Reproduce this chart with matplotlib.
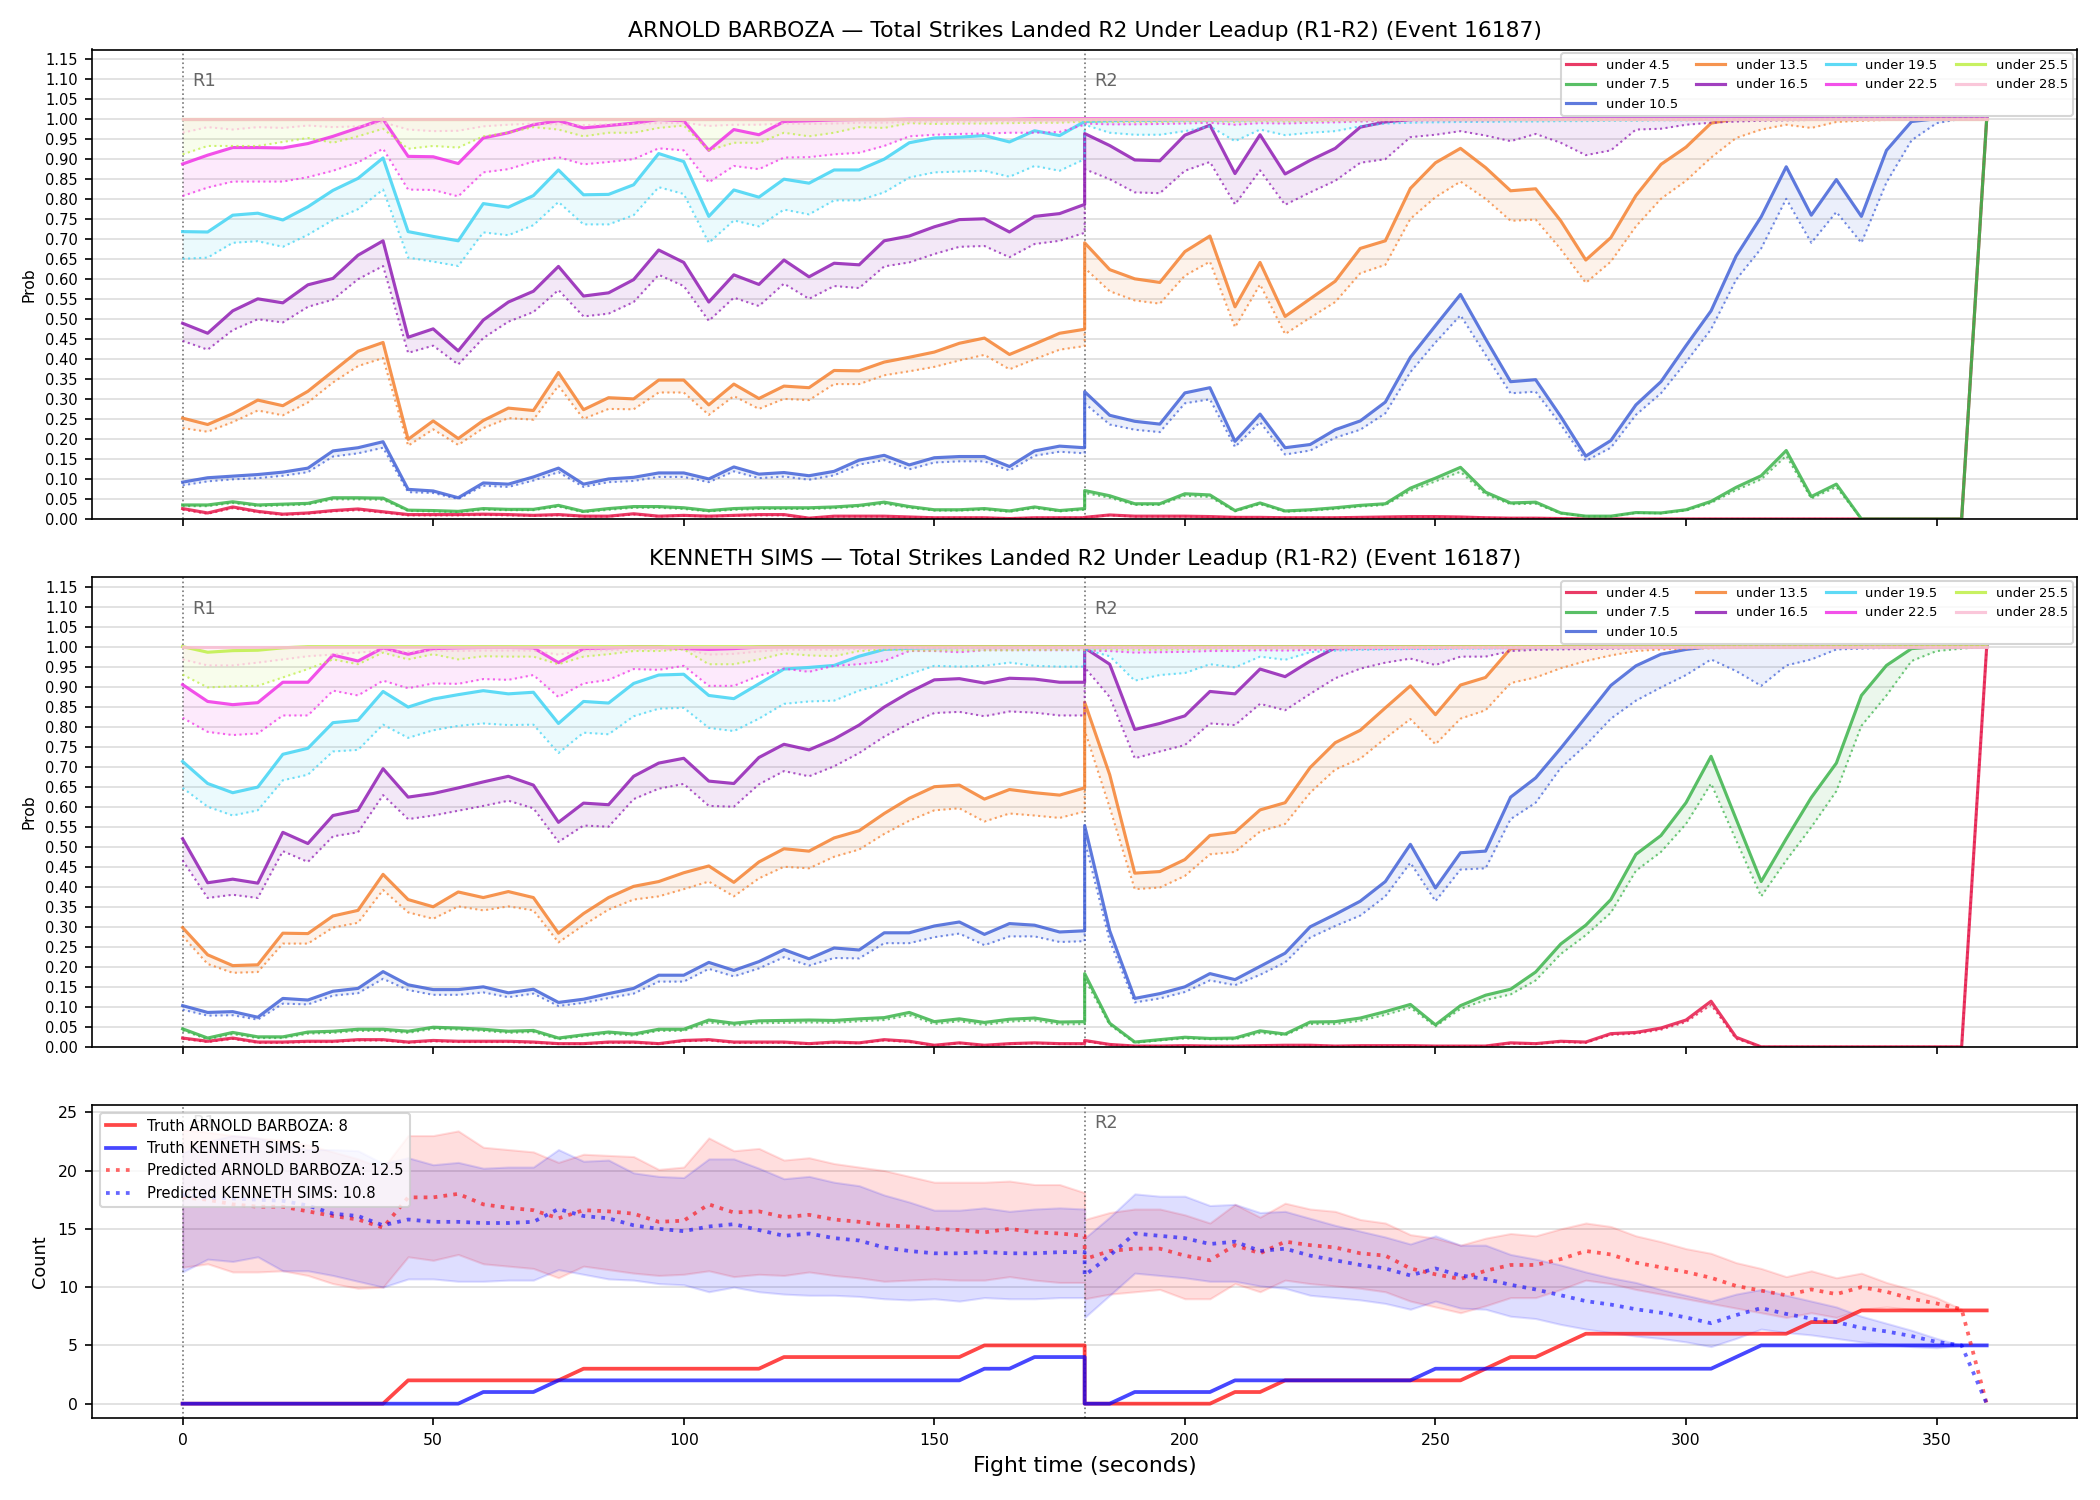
import numpy as np
import matplotlib
matplotlib.use("Agg")
import matplotlib.pyplot as plt

# time grid: round 1 0..180, round 2 180..360 (180 twice so the reset is a vertical jump)
t_r1 = list(range(0, 181, 5))
t_r2 = list(range(180, 361, 5))
t = t_r1 + t_r2

labels = ['under 4.5', 'under 7.5', 'under 10.5', 'under 13.5', 'under 16.5',
          'under 19.5', 'under 22.5', 'under 25.5', 'under 28.5']
colors = ['#e6194b', '#3cb44b', '#4363d8', '#f58231', '#911eb4',
          '#42d4f4', '#f032e6', '#bfef45', '#fabed4']

# ---- ARNOLD BARBOZA : solid line (hi) and dotted line (lo), R1 then R2 ----
ab_45 = [0.026, 0.015, 0.030, 0.019, 0.012, 0.015, 0.021, 0.025, 0.018, 0.011, 0.011, 0.011, 0.012,
         0.011, 0.009, 0.011, 0.007, 0.007, 0.013, 0.007, 0.009, 0.007, 0.009, 0.011, 0.011, 0.002,
         0.007, 0.007, 0.007, 0.005, 0.003, 0.003, 0.003, 0.001, 0.003, 0.003, 0.003,
         0.004, 0.010, 0.007, 0.007, 0.007, 0.006, 0.004, 0.004, 0.003, 0.003, 0.003, 0.004, 0.005,
         0.006, 0.006, 0.005, 0.003, 0.002, 0.002, 0.001, 0, 0, 0, 0, 0, 0, 0, 0, 0, 0, 0, 0, 0, 0, 0, 0, 1.0]
ab_45_lo = [0.023, 0.013, 0.027, 0.017, 0.010, 0.013, 0.019, 0.022, 0.016, 0.009, 0.009, 0.009, 0.010,
            0.009, 0.008, 0.009, 0.006, 0.006, 0.011, 0.006, 0.008, 0.006, 0.008, 0.009, 0.009, 0.002,
            0.006, 0.006, 0.006, 0.004, 0.003, 0.003, 0.003, 0.001, 0.003, 0.003, 0.003,
            0.004, 0.009, 0.006, 0.006, 0.006, 0.005, 0.004, 0.003, 0.003, 0.003, 0.003, 0.003, 0.004,
            0.005, 0.005, 0.004, 0.003, 0.002, 0.002, 0.001, 0, 0, 0, 0, 0, 0, 0, 0, 0, 0, 0, 0, 0, 0, 0, 0, 1.0]
ab_75 = [0.035, 0.035, 0.043, 0.035, 0.037, 0.039, 0.053, 0.053, 0.052, 0.022, 0.021, 0.019, 0.026,
         0.024, 0.024, 0.034, 0.019, 0.026, 0.031, 0.031, 0.028, 0.021, 0.026, 0.028, 0.028,
         0.028, 0.030, 0.034, 0.042, 0.031, 0.023, 0.023, 0.026, 0.020, 0.030, 0.021, 0.026,
         0.071, 0.058, 0.038, 0.038, 0.063, 0.060, 0.021, 0.040, 0.020, 0.023, 0.028, 0.034, 0.038,
         0.077, 0.102, 0.129, 0.067, 0.040, 0.042, 0.015, 0.007, 0.007, 0.016, 0.015, 0.023,
         0.044, 0.079, 0.108, 0.171, 0.056, 0.087, 0, 0, 0, 0, 0, 1.0]
ab_75_lo = [0.032, 0.032, 0.040, 0.032, 0.034, 0.036, 0.049, 0.049, 0.048, 0.020, 0.019, 0.017, 0.023,
            0.022, 0.022, 0.031, 0.017, 0.023, 0.028, 0.028, 0.025, 0.019, 0.023, 0.025, 0.025,
            0.025, 0.027, 0.031, 0.038, 0.028, 0.021, 0.021, 0.023, 0.018, 0.027, 0.019, 0.023,
            0.065, 0.053, 0.035, 0.035, 0.058, 0.055, 0.019, 0.037, 0.018, 0.021, 0.025, 0.031, 0.035,
            0.070, 0.094, 0.118, 0.061, 0.037, 0.038, 0.014, 0.006, 0.006, 0.015, 0.014, 0.021,
            0.040, 0.072, 0.099, 0.158, 0.051, 0.080, 0, 0, 0, 0, 0, 1.0]
ab_105 = [0.092, 0.103, 0.107, 0.111, 0.117, 0.127, 0.170, 0.178, 0.193, 0.074, 0.070, 0.053, 0.090,
          0.087, 0.105, 0.127, 0.087, 0.100, 0.104, 0.115, 0.115, 0.100, 0.130, 0.112, 0.116,
          0.108, 0.119, 0.147, 0.159, 0.135, 0.153, 0.156, 0.156, 0.131, 0.170, 0.182, 0.178,
          0.318, 0.259, 0.244, 0.237, 0.315, 0.328, 0.194, 0.262, 0.178, 0.186, 0.223, 0.245, 0.292,
          0.404, 0.483, 0.561, 0.450, 0.343, 0.348, 0.256, 0.157, 0.196, 0.285, 0.343, 0.433,
          0.520, 0.657, 0.755, 0.880, 0.759, 0.848, 0.756, 0.921, 0.993, 1.0, 1.0, 1.0]
ab_105_lo = [0.084, 0.094, 0.099, 0.102, 0.108, 0.117, 0.156, 0.164, 0.178, 0.067, 0.065, 0.050, 0.083,
             0.080, 0.096, 0.117, 0.080, 0.092, 0.095, 0.105, 0.105, 0.092, 0.119, 0.102, 0.106,
             0.098, 0.109, 0.136, 0.147, 0.124, 0.141, 0.144, 0.144, 0.121, 0.158, 0.168, 0.164,
             0.289, 0.236, 0.223, 0.217, 0.289, 0.299, 0.180, 0.242, 0.161, 0.171, 0.203, 0.223, 0.264,
             0.367, 0.441, 0.509, 0.410, 0.314, 0.318, 0.236, 0.145, 0.178, 0.260, 0.314, 0.392,
             0.474, 0.598, 0.676, 0.800, 0.690, 0.767, 0.690, 0.841, 0.946, 0.989, 1.0, 1.0]
ab_135 = [0.252, 0.236, 0.263, 0.297, 0.283, 0.319, 0.369, 0.419, 0.441, 0.199, 0.245, 0.201, 0.246,
          0.277, 0.271, 0.366, 0.273, 0.303, 0.300, 0.347, 0.347, 0.285, 0.337, 0.301, 0.332,
          0.328, 0.371, 0.370, 0.392, 0.404, 0.417, 0.439, 0.452, 0.411, 0.437, 0.464, 0.474,
          0.690, 0.623, 0.600, 0.591, 0.668, 0.707, 0.530, 0.641, 0.506, 0.550, 0.594, 0.676, 0.695,
          0.826, 0.890, 0.926, 0.878, 0.820, 0.825, 0.745, 0.647, 0.703, 0.808, 0.886, 0.929,
          0.989, 1.0, 1.0, 1.0, 1.0, 1.0, 1.0, 1.0, 1.0, 1.0, 1.0, 1.0]
ab_135_lo = [0.227, 0.218, 0.242, 0.271, 0.259, 0.291, 0.341, 0.382, 0.402, 0.183, 0.224, 0.185, 0.227,
             0.252, 0.248, 0.333, 0.250, 0.275, 0.274, 0.316, 0.316, 0.260, 0.307, 0.275, 0.300,
             0.297, 0.337, 0.337, 0.359, 0.369, 0.380, 0.396, 0.410, 0.374, 0.399, 0.423, 0.432,
             0.627, 0.569, 0.546, 0.538, 0.608, 0.643, 0.479, 0.586, 0.462, 0.503, 0.542, 0.614, 0.635,
             0.750, 0.804, 0.843, 0.800, 0.745, 0.748, 0.674, 0.590, 0.643, 0.731, 0.800, 0.845,
             0.903, 0.952, 0.973, 0.985, 0.977, 0.992, 0.995, 0.997, 0.998, 0.999, 1.0, 1.0]
ab_165 = [0.489, 0.464, 0.520, 0.550, 0.540, 0.585, 0.601, 0.659, 0.695, 0.454, 0.475, 0.420, 0.497,
          0.542, 0.569, 0.631, 0.557, 0.565, 0.598, 0.672, 0.641, 0.542, 0.610, 0.586, 0.647,
          0.605, 0.639, 0.635, 0.695, 0.707, 0.730, 0.748, 0.750, 0.717, 0.756, 0.763, 0.786,
          0.963, 0.933, 0.897, 0.895, 0.959, 0.984, 0.863, 0.960, 0.862, 0.896, 0.926, 0.979, 0.992,
          0.998, 1.0, 1.0, 1.0, 1.0, 1.0, 1.0, 1.0, 1.0, 1.0, 1.0, 1.0,
          1.0, 1.0, 1.0, 1.0, 1.0, 1.0, 1.0, 1.0, 1.0, 1.0, 1.0, 1.0]
ab_165_lo = [0.445, 0.423, 0.472, 0.499, 0.491, 0.530, 0.548, 0.599, 0.632, 0.415, 0.433, 0.386, 0.452,
             0.493, 0.517, 0.572, 0.506, 0.513, 0.542, 0.610, 0.582, 0.495, 0.553, 0.532, 0.588,
             0.550, 0.582, 0.577, 0.631, 0.641, 0.662, 0.680, 0.682, 0.654, 0.687, 0.695, 0.715,
             0.874, 0.849, 0.816, 0.814, 0.870, 0.892, 0.786, 0.871, 0.785, 0.816, 0.845, 0.890, 0.899,
             0.954, 0.960, 0.969, 0.958, 0.944, 0.962, 0.940, 0.909, 0.921, 0.973, 0.975, 0.985,
             0.990, 0.993, 0.995, 0.996, 0.997, 0.998, 0.999, 0.999, 1.0, 1.0, 1.0, 1.0]
ab_195 = [0.718, 0.717, 0.759, 0.764, 0.747, 0.780, 0.821, 0.851, 0.902, 0.718, 0.706, 0.695, 0.788,
          0.779, 0.808, 0.872, 0.810, 0.811, 0.835, 0.913, 0.893, 0.756, 0.822, 0.804, 0.849,
          0.839, 0.872, 0.872, 0.899, 0.940, 0.952, 0.954, 0.958, 0.942, 0.970, 0.958, 0.993,
          0.993, 0.995, 0.996, 0.996, 0.997, 0.997, 0.997, 0.998, 0.998, 0.998, 0.999, 0.999, 1.0,
          1.0, 1.0, 1.0, 1.0, 1.0, 1.0, 1.0, 1.0, 1.0, 1.0, 1.0, 1.0,
          1.0, 1.0, 1.0, 1.0, 1.0, 1.0, 1.0, 1.0, 1.0, 1.0, 1.0, 1.0]
ab_195_lo = [0.650, 0.653, 0.690, 0.694, 0.680, 0.710, 0.747, 0.774, 0.823, 0.653, 0.643, 0.632, 0.716,
             0.709, 0.734, 0.792, 0.736, 0.736, 0.759, 0.829, 0.812, 0.690, 0.746, 0.731, 0.773,
             0.761, 0.796, 0.796, 0.816, 0.853, 0.866, 0.868, 0.870, 0.855, 0.882, 0.870, 0.899,
             0.985, 0.965, 0.960, 0.960, 0.969, 0.981, 0.944, 0.973, 0.959, 0.965, 0.969, 0.981, 0.988,
             0.990, 0.991, 0.992, 0.992, 0.993, 0.993, 0.994, 0.994, 0.995, 0.995, 0.996, 0.996,
             0.997, 0.997, 0.998, 0.998, 0.998, 0.999, 0.999, 0.999, 0.999, 1.0, 1.0, 1.0]
ab_225 = [0.887, 0.909, 0.928, 0.928, 0.927, 0.938, 0.956, 0.977, 0.999, 0.906, 0.905, 0.888, 0.952,
          0.965, 0.985, 0.995, 0.977, 0.983, 0.989, 0.998, 0.995, 0.921, 0.973, 0.960, 0.993,
          0.995, 0.997, 0.998, 0.998, 0.999, 0.999, 0.999, 0.999, 0.999, 1.0, 1.0, 1.0,
          1.0, 1.0, 1.0, 1.0, 1.0, 1.0, 1.0, 1.0, 1.0, 1.0, 1.0, 1.0, 1.0,
          1.0, 1.0, 1.0, 1.0, 1.0, 1.0, 1.0, 1.0, 1.0, 1.0, 1.0, 1.0,
          1.0, 1.0, 1.0, 1.0, 1.0, 1.0, 1.0, 1.0, 1.0, 1.0, 1.0, 1.0]
ab_225_lo = [0.807, 0.828, 0.843, 0.843, 0.843, 0.854, 0.870, 0.891, 0.925, 0.823, 0.822, 0.806, 0.866,
             0.874, 0.893, 0.904, 0.886, 0.892, 0.899, 0.926, 0.921, 0.841, 0.882, 0.874, 0.903,
             0.904, 0.911, 0.915, 0.932, 0.956, 0.960, 0.962, 0.963, 0.965, 0.965, 0.967, 0.985,
             0.988, 0.986, 0.986, 0.987, 0.988, 0.990, 0.985, 0.989, 0.988, 0.990, 0.991, 0.993, 0.994,
             0.995, 0.996, 0.996, 0.996, 0.997, 0.997, 0.997, 0.998, 0.998, 0.998, 0.998, 0.999,
             0.999, 0.999, 0.999, 0.999, 0.999, 1.0, 1.0, 1.0, 1.0, 1.0, 1.0, 1.0]
ab_255 = [1.0, 1.0, 1.0, 1.0, 1.0, 1.0, 1.0, 1.0, 1.0, 1.0, 1.0, 1.0, 1.0,
          1.0, 1.0, 1.0, 1.0, 1.0, 1.0, 1.0, 1.0, 1.0, 1.0, 1.0, 1.0,
          1.0, 1.0, 1.0, 1.0, 1.0, 1.0, 1.0, 1.0, 1.0, 1.0, 1.0, 1.0,
          1.0, 1.0, 1.0, 1.0, 1.0, 1.0, 1.0, 1.0, 1.0, 1.0, 1.0, 1.0, 1.0,
          1.0, 1.0, 1.0, 1.0, 1.0, 1.0, 1.0, 1.0, 1.0, 1.0, 1.0, 1.0,
          1.0, 1.0, 1.0, 1.0, 1.0, 1.0, 1.0, 1.0, 1.0, 1.0, 1.0, 1.0]
ab_255_lo = [0.911, 0.932, 0.932, 0.932, 0.942, 0.952, 0.940, 0.956, 0.975, 0.925, 0.932, 0.928, 0.956,
             0.965, 0.979, 0.973, 0.956, 0.965, 0.965, 0.977, 0.983, 0.921, 0.940, 0.940, 0.965,
             0.956, 0.965, 0.979, 0.977, 0.989, 0.987, 0.988, 0.988, 0.989, 0.990, 0.990, 0.993,
             0.993, 0.992, 0.992, 0.992, 0.993, 0.994, 0.992, 0.994, 0.993, 0.994, 0.995, 0.996, 0.996,
             0.997, 0.997, 0.997, 0.997, 0.998, 0.998, 0.998, 0.998, 0.998, 0.998, 0.999, 0.999,
             0.999, 0.999, 0.999, 0.999, 0.999, 1.0, 1.0, 1.0, 1.0, 1.0, 1.0, 1.0]
ab_285 = ab_255
ab_285_lo = [0.965, 0.979, 0.973, 0.979, 0.977, 0.983, 0.979, 0.981, 0.991, 0.973, 0.969, 0.970, 0.981,
             0.985, 0.988, 0.986, 0.984, 0.986, 0.987, 0.989, 0.990, 0.982, 0.985, 0.985, 0.988,
             0.987, 0.988, 0.990, 0.990, 0.992, 0.992, 0.992, 0.993, 0.993, 0.993, 0.993, 0.995,
             0.996, 0.995, 0.995, 0.995, 0.996, 0.996, 0.995, 0.996, 0.996, 0.996, 0.997, 0.997, 0.997,
             0.998, 0.998, 0.998, 0.998, 0.998, 0.998, 0.998, 0.998, 0.998, 0.998, 0.998, 0.998,
             0.999, 0.999, 0.999, 0.999, 0.999, 1.0, 1.0, 1.0, 1.0, 1.0, 1.0, 1.0]

# ---- KENNETH SIMS ----
ks_45 = [0.022, 0.014, 0.022, 0.012, 0.012, 0.014, 0.014, 0.018, 0.018, 0.012, 0.016, 0.014, 0.014,
         0.014, 0.012, 0.008, 0.008, 0.012, 0.012, 0.008, 0.016, 0.018, 0.012, 0.012, 0.012,
         0.008, 0.012, 0.010, 0.018, 0.014, 0.004, 0.010, 0.004, 0.008, 0.010, 0.008, 0.008,
         0.016, 0.006, 0.002, 0.002, 0.003, 0.002, 0.002, 0.003, 0.004, 0.004, 0.002, 0.003, 0.003,
         0.003, 0.002, 0.002, 0.002, 0.010, 0.008, 0.014, 0.012, 0.033, 0.036, 0.047, 0.067,
         0.114, 0.024, 0, 0, 0, 0, 0, 0, 0, 0, 0, 1.0]
ks_45_lo = [0.020, 0.012, 0.020, 0.010, 0.010, 0.012, 0.012, 0.016, 0.016, 0.010, 0.014, 0.012, 0.012,
            0.012, 0.010, 0.007, 0.007, 0.010, 0.010, 0.007, 0.014, 0.016, 0.010, 0.010, 0.010,
            0.007, 0.010, 0.009, 0.016, 0.012, 0.003, 0.009, 0.003, 0.007, 0.009, 0.007, 0.007,
            0.014, 0.005, 0.002, 0.002, 0.002, 0.002, 0.002, 0.002, 0.003, 0.003, 0.002, 0.002, 0.002,
            0.002, 0.002, 0.002, 0.002, 0.008, 0.007, 0.012, 0.010, 0.030, 0.033, 0.043, 0.062,
            0.105, 0.020, 0, 0, 0, 0, 0, 0, 0, 0, 0, 1.0]
ks_75 = [0.045, 0.022, 0.036, 0.025, 0.025, 0.037, 0.039, 0.044, 0.044, 0.039, 0.049, 0.047, 0.044,
         0.039, 0.041, 0.022, 0.030, 0.037, 0.032, 0.044, 0.044, 0.067, 0.059, 0.065, 0.066,
         0.067, 0.066, 0.070, 0.073, 0.086, 0.063, 0.070, 0.061, 0.069, 0.072, 0.062, 0.063,
         0.183, 0.059, 0.012, 0.018, 0.024, 0.021, 0.022, 0.040, 0.032, 0.062, 0.063, 0.072, 0.088,
         0.106, 0.055, 0.103, 0.129, 0.144, 0.187, 0.257, 0.304, 0.368, 0.481, 0.528, 0.610,
         0.726, 0.569, 0.413, 0.520, 0.623, 0.709, 0.878, 0.953, 0.995, 1.0, 1.0, 1.0]
ks_75_lo = [0.041, 0.019, 0.032, 0.022, 0.022, 0.033, 0.035, 0.040, 0.040, 0.035, 0.045, 0.043, 0.040,
            0.035, 0.037, 0.019, 0.027, 0.033, 0.028, 0.040, 0.040, 0.061, 0.054, 0.059, 0.060,
            0.061, 0.060, 0.064, 0.067, 0.079, 0.057, 0.064, 0.055, 0.063, 0.066, 0.056, 0.057,
            0.170, 0.055, 0.010, 0.016, 0.021, 0.019, 0.019, 0.035, 0.029, 0.057, 0.057, 0.065, 0.080,
            0.098, 0.051, 0.095, 0.117, 0.131, 0.166, 0.232, 0.279, 0.335, 0.440, 0.487, 0.557,
            0.658, 0.516, 0.376, 0.466, 0.549, 0.639, 0.802, 0.878, 0.964, 0.989, 0.995, 1.0]
ks_105 = [0.103, 0.086, 0.088, 0.074, 0.121, 0.117, 0.139, 0.146, 0.188, 0.155, 0.143, 0.143, 0.150,
          0.135, 0.144, 0.111, 0.119, 0.133, 0.146, 0.179, 0.179, 0.211, 0.191, 0.213, 0.243,
          0.220, 0.247, 0.242, 0.285, 0.285, 0.302, 0.312, 0.281, 0.308, 0.304, 0.287, 0.290,
          0.553, 0.290, 0.121, 0.133, 0.150, 0.183, 0.168, 0.201, 0.234, 0.300, 0.331, 0.364, 0.413,
          0.506, 0.397, 0.485, 0.489, 0.624, 0.672, 0.746, 0.824, 0.903, 0.952, 0.981, 0.993,
          1.0, 1.0, 1.0, 1.0, 1.0, 1.0, 1.0, 1.0, 1.0, 1.0, 1.0, 1.0]
ks_105_lo = [0.093, 0.078, 0.079, 0.068, 0.108, 0.106, 0.128, 0.134, 0.170, 0.142, 0.130, 0.130, 0.136,
             0.124, 0.133, 0.102, 0.110, 0.122, 0.133, 0.163, 0.163, 0.195, 0.176, 0.196, 0.224,
             0.203, 0.222, 0.221, 0.259, 0.259, 0.274, 0.283, 0.254, 0.276, 0.276, 0.262, 0.264,
             0.516, 0.265, 0.111, 0.121, 0.137, 0.166, 0.154, 0.180, 0.211, 0.273, 0.302, 0.328, 0.376,
             0.460, 0.364, 0.443, 0.446, 0.569, 0.610, 0.697, 0.754, 0.820, 0.865, 0.898, 0.929,
             0.968, 0.939, 0.902, 0.953, 0.968, 0.993, 0.995, 0.997, 0.998, 0.999, 1.0, 1.0]
ks_135 = [0.298, 0.230, 0.203, 0.205, 0.284, 0.283, 0.327, 0.341, 0.431, 0.368, 0.350, 0.387, 0.373,
          0.388, 0.373, 0.284, 0.333, 0.373, 0.401, 0.413, 0.435, 0.452, 0.411, 0.462, 0.495,
          0.489, 0.522, 0.540, 0.583, 0.621, 0.650, 0.654, 0.619, 0.643, 0.635, 0.629, 0.647,
          0.861, 0.680, 0.434, 0.438, 0.468, 0.528, 0.536, 0.592, 0.610, 0.698, 0.760, 0.791, 0.847,
          0.902, 0.830, 0.904, 0.923, 0.995, 1.0, 1.0, 1.0, 1.0, 1.0, 1.0, 1.0,
          1.0, 1.0, 1.0, 1.0, 1.0, 1.0, 1.0, 1.0, 1.0, 1.0, 1.0, 1.0]
ks_135_lo = [0.277, 0.207, 0.185, 0.187, 0.258, 0.258, 0.298, 0.310, 0.392, 0.336, 0.320, 0.351, 0.341,
             0.351, 0.341, 0.261, 0.304, 0.343, 0.368, 0.376, 0.394, 0.413, 0.376, 0.421, 0.450,
             0.446, 0.475, 0.493, 0.532, 0.565, 0.591, 0.596, 0.563, 0.583, 0.578, 0.572, 0.588,
             0.791, 0.598, 0.394, 0.398, 0.427, 0.481, 0.487, 0.538, 0.557, 0.635, 0.693, 0.720, 0.771,
             0.819, 0.756, 0.820, 0.841, 0.909, 0.923, 0.946, 0.964, 0.978, 0.989, 0.993, 0.995,
             0.996, 0.997, 0.998, 0.998, 0.999, 0.999, 1.0, 1.0, 1.0, 1.0, 1.0, 1.0]
ks_165 = [0.520, 0.410, 0.419, 0.409, 0.536, 0.508, 0.578, 0.591, 0.695, 0.624, 0.633, 0.647, 0.662,
          0.676, 0.654, 0.561, 0.609, 0.605, 0.676, 0.709, 0.721, 0.664, 0.658, 0.723, 0.756,
          0.742, 0.769, 0.804, 0.849, 0.886, 0.917, 0.920, 0.909, 0.921, 0.919, 0.911, 0.911,
          0.997, 0.956, 0.793, 0.808, 0.827, 0.888, 0.882, 0.944, 0.925, 0.964, 0.997, 1.0, 1.0,
          1.0, 1.0, 1.0, 1.0, 1.0, 1.0, 1.0, 1.0, 1.0, 1.0, 1.0, 1.0,
          1.0, 1.0, 1.0, 1.0, 1.0, 1.0, 1.0, 1.0, 1.0, 1.0, 1.0, 1.0]
ks_165_lo = [0.466, 0.372, 0.380, 0.372, 0.489, 0.462, 0.526, 0.536, 0.629, 0.569, 0.578, 0.590, 0.602,
             0.615, 0.596, 0.512, 0.553, 0.550, 0.619, 0.645, 0.657, 0.602, 0.600, 0.656, 0.689,
             0.676, 0.701, 0.734, 0.775, 0.808, 0.834, 0.837, 0.826, 0.838, 0.835, 0.828, 0.828,
             0.948, 0.874, 0.721, 0.738, 0.754, 0.808, 0.804, 0.857, 0.841, 0.882, 0.921, 0.945, 0.960,
             0.970, 0.954, 0.975, 0.975, 0.989, 0.992, 0.993, 0.994, 0.995, 0.996, 0.997, 0.998,
             0.998, 0.999, 0.999, 0.999, 1.0, 1.0, 1.0, 1.0, 1.0, 1.0, 1.0, 1.0]
ks_195 = [0.713, 0.658, 0.635, 0.649, 0.731, 0.746, 0.810, 0.816, 0.888, 0.849, 0.869, 0.880, 0.890,
          0.882, 0.886, 0.808, 0.863, 0.859, 0.908, 0.929, 0.931, 0.878, 0.870, 0.907, 0.944,
          0.948, 0.953, 0.976, 0.993, 0.996, 0.997, 0.998, 0.998, 0.999, 0.999, 0.999, 0.999,
          0.997, 0.998, 0.999, 0.999, 0.999, 0.999, 1.0, 1.0, 1.0, 1.0, 1.0, 1.0, 1.0,
          1.0, 1.0, 1.0, 1.0, 1.0, 1.0, 1.0, 1.0, 1.0, 1.0, 1.0, 1.0,
          1.0, 1.0, 1.0, 1.0, 1.0, 1.0, 1.0, 1.0, 1.0, 1.0, 1.0, 1.0]
ks_195_lo = [0.647, 0.600, 0.578, 0.591, 0.666, 0.680, 0.738, 0.742, 0.805, 0.772, 0.791, 0.802, 0.808,
             0.804, 0.805, 0.734, 0.785, 0.781, 0.826, 0.845, 0.847, 0.797, 0.789, 0.820, 0.857,
             0.863, 0.865, 0.890, 0.907, 0.931, 0.952, 0.950, 0.952, 0.960, 0.952, 0.950, 0.950,
             0.993, 0.976, 0.915, 0.929, 0.934, 0.956, 0.948, 0.975, 0.967, 0.986, 0.990, 0.992, 0.993,
             0.994, 0.994, 0.995, 0.995, 0.996, 0.996, 0.996, 0.997, 0.997, 0.997, 0.998, 0.998,
             0.998, 0.998, 0.999, 0.999, 0.999, 0.999, 0.999, 1.0, 1.0, 1.0, 1.0, 1.0]
ks_225 = [0.905, 0.863, 0.855, 0.860, 0.911, 0.911, 0.979, 0.964, 0.997, 0.981, 0.995, 0.997, 0.998,
          0.998, 0.997, 0.960, 0.995, 0.997, 0.999, 0.999, 0.995, 0.993, 0.995, 0.999, 1.0,
          1.0, 1.0, 1.0, 1.0, 1.0, 1.0, 1.0, 1.0, 1.0, 1.0, 1.0, 1.0,
          1.0, 1.0, 1.0, 1.0, 1.0, 1.0, 1.0, 1.0, 1.0, 1.0, 1.0, 1.0, 1.0,
          1.0, 1.0, 1.0, 1.0, 1.0, 1.0, 1.0, 1.0, 1.0, 1.0, 1.0, 1.0,
          1.0, 1.0, 1.0, 1.0, 1.0, 1.0, 1.0, 1.0, 1.0, 1.0, 1.0, 1.0]
ks_225_lo = [0.822, 0.787, 0.779, 0.783, 0.828, 0.828, 0.890, 0.878, 0.915, 0.896, 0.908, 0.907, 0.919,
             0.917, 0.929, 0.874, 0.908, 0.917, 0.944, 0.942, 0.952, 0.902, 0.902, 0.927, 0.945,
             0.937, 0.952, 0.956, 0.964, 0.989, 0.989, 0.986, 0.991, 0.991, 0.991, 0.991, 0.991,
             0.990, 0.989, 0.985, 0.986, 0.987, 0.989, 0.989, 0.991, 0.990, 0.992, 0.993, 0.994, 0.994,
             0.995, 0.995, 0.996, 0.996, 0.996, 0.997, 0.997, 0.997, 0.998, 0.998, 0.998, 0.998,
             0.999, 0.999, 0.999, 0.999, 0.999, 1.0, 1.0, 1.0, 1.0, 1.0, 1.0, 1.0]
ks_255 = [1.0, 0.986, 0.990, 0.991, 0.997, 1.0, 1.0, 1.0, 1.0, 1.0, 1.0, 1.0, 1.0,
          1.0, 1.0, 1.0, 1.0, 1.0, 1.0, 1.0, 1.0, 1.0, 1.0, 1.0, 1.0,
          1.0, 1.0, 1.0, 1.0, 1.0, 1.0, 1.0, 1.0, 1.0, 1.0, 1.0, 1.0,
          1.0, 1.0, 1.0, 1.0, 1.0, 1.0, 1.0, 1.0, 1.0, 1.0, 1.0, 1.0, 1.0,
          1.0, 1.0, 1.0, 1.0, 1.0, 1.0, 1.0, 1.0, 1.0, 1.0, 1.0, 1.0,
          1.0, 1.0, 1.0, 1.0, 1.0, 1.0, 1.0, 1.0, 1.0, 1.0, 1.0, 1.0]
ks_255_lo = [0.930, 0.898, 0.901, 0.902, 0.923, 0.944, 0.968, 0.956, 0.985, 0.968, 0.981, 0.968, 0.976,
             0.975, 0.975, 0.956, 0.975, 0.981, 0.989, 0.989, 0.993, 0.956, 0.956, 0.968, 0.983,
             0.978, 0.976, 0.989, 0.993, 0.990, 0.990, 0.991, 0.991, 0.991, 0.992, 0.992, 0.992,
             0.993, 0.993, 0.992, 0.992, 0.993, 0.994, 0.994, 0.995, 0.995, 0.996, 0.996, 0.996, 0.997,
             0.997, 0.997, 0.997, 0.998, 0.998, 0.998, 0.998, 0.998, 0.998, 0.999, 0.999, 0.999,
             0.999, 0.999, 0.999, 0.999, 1.0, 1.0, 1.0, 1.0, 1.0, 1.0, 1.0, 1.0]
ks_285 = ab_255
ks_285_lo = [0.968, 0.953, 0.953, 0.960, 0.968, 0.976, 0.980, 0.985, 0.990, 0.987, 0.990, 0.989, 0.990,
             0.990, 0.990, 0.980, 0.990, 0.991, 0.993, 0.993, 0.994, 0.980, 0.982, 0.988, 0.992,
             0.992, 0.992, 0.994, 0.995, 0.996, 0.996, 0.996, 0.996, 0.996, 0.997, 0.997, 0.997,
             0.998, 0.998, 0.997, 0.997, 0.997, 0.998, 0.998, 0.998, 0.998, 0.998, 0.998, 0.998, 0.998,
             0.999, 0.999, 0.999, 0.999, 0.999, 0.999, 0.999, 0.999, 0.999, 0.999, 0.999, 0.999,
             0.999, 1.0, 1.0, 1.0, 1.0, 1.0, 1.0, 1.0, 1.0, 1.0, 1.0, 1.0]

# ---- counts panel ----
truth_ab = [0, 0, 0, 0, 0, 0, 0, 0, 0, 2, 2, 2, 2, 2, 2, 2, 3, 3, 3, 3, 3, 3, 3, 3,
            4, 4, 4, 4, 4, 4, 4, 4, 5, 5, 5, 5, 5,
            0, 0, 0, 0, 0, 0, 1, 1, 2, 2, 2, 2, 2, 2, 2, 2, 3, 4, 4, 5,
            6, 6, 6, 6, 6, 6, 6, 6, 6, 7, 7, 8, 8, 8, 8, 8, 8]
truth_ks = [0, 0, 0, 0, 0, 0, 0, 0, 0, 0, 0, 0, 1, 1, 1, 2, 2, 2, 2, 2, 2, 2, 2, 2,
            2, 2, 2, 2, 2, 2, 2, 2, 3, 3, 4, 4, 4,
            0, 0, 1, 1, 1, 1, 2, 2, 2, 2, 2, 2, 2, 2, 3, 3, 3, 3, 3, 3,
            3, 3, 3, 3, 3, 3, 4, 5, 5, 5, 5, 5, 5, 5, 5, 5, 5]
pred_ab = [17.7, 17.5, 17.1, 16.9, 16.9, 16.5, 16.1, 15.8, 15.1, 17.7, 17.7, 18.0, 17.1,
           16.8, 16.6, 15.9, 16.6, 16.5, 16.3, 15.6, 15.7, 17.1, 16.4, 16.5, 16.0,
           16.2, 15.8, 15.6, 15.3, 15.2, 15.0, 14.9, 14.7, 15.0, 14.7, 14.6, 14.4,
           12.4, 13.1, 13.3, 13.3, 12.7, 12.3, 13.6, 12.9, 13.9, 13.6, 13.4, 12.9, 12.7,
           11.6, 11.1, 10.7, 11.4, 11.9, 11.9, 12.4, 13.1, 12.8, 12.1, 11.7, 11.3,
           10.8, 10.1, 9.7, 9.3, 9.8, 9.4, 10.0, 9.6, 9.0, 8.6, 8.1, 0.0]
pred_ks = [17.9, 17.7, 17.6, 17.5, 17.4, 17.0, 16.3, 16.1, 15.3, 15.8, 15.6, 15.6, 15.5,
           15.5, 15.6, 16.7, 16.1, 15.9, 15.3, 15.0, 14.8, 15.2, 15.4, 14.9, 14.4,
           14.6, 14.2, 14.0, 13.4, 13.1, 12.9, 12.9, 13.0, 12.9, 12.9, 13.0, 13.0,
           11.0, 12.7, 14.6, 14.4, 14.2, 13.7, 13.9, 13.1, 13.3, 12.7, 12.3, 11.9, 11.6,
           11.0, 11.6, 11.0, 10.7, 10.2, 9.8, 9.3, 8.8, 8.5, 8.1, 7.8, 7.4,
           6.9, 7.6, 8.2, 7.7, 7.3, 7.0, 6.5, 6.2, 5.8, 5.3, 5.0, 0.0]
ab_band_hi = [23.5, 23.3, 23.0, 22.8, 22.6, 22.2, 21.6, 21.0, 20.2, 23.0, 23.0, 23.4, 22.0,
              21.8, 21.6, 20.7, 21.4, 21.3, 21.2, 20.1, 20.3, 22.8, 21.7, 21.9, 20.9,
              21.1, 20.6, 20.3, 20.0, 19.5, 19.0, 19.0, 19.0, 19.1, 18.8, 18.8, 18.1,
              15.8, 16.4, 16.7, 16.7, 16.2, 15.5, 17.1, 16.0, 17.2, 16.7, 16.5, 15.8, 15.5,
              14.5, 14.2, 13.6, 14.2, 14.6, 14.4, 15.0, 15.5, 15.2, 14.4, 13.9, 13.3,
              12.9, 12.1, 11.6, 10.9, 11.4, 10.8, 11.2, 10.4, 9.8, 9.1, 8.1, np.nan]
ab_band_lo = [11.7, 12.0, 11.3, 11.3, 11.4, 11.0, 10.3, 9.9, 10.0, 12.6, 12.3, 12.8, 12.0,
              11.8, 11.6, 10.8, 11.8, 11.5, 11.2, 11.0, 11.1, 11.4, 10.9, 11.1, 11.0,
              11.3, 11.0, 10.8, 10.5, 10.6, 10.7, 10.6, 10.6, 10.9, 10.6, 10.4, 10.4,
              9.0, 9.4, 9.6, 9.8, 9.0, 9.0, 10.3, 9.6, 10.6, 10.3, 10.1, 9.9, 9.6,
              8.8, 8.3, 7.8, 8.4, 9.1, 9.1, 9.8, 10.6, 10.3, 9.8, 9.4, 9.0,
              8.6, 8.2, 7.8, 7.4, 7.8, 7.4, 8.1, 8.3, 8.1, 8.0, 8.0, np.nan]
ks_band_hi = [21.5, 22.5, 23.0, 22.8, 22.2, 21.8, 21.8, 21.7, 20.6, 21.1, 20.5, 20.7, 20.2,
              20.3, 20.3, 21.8, 20.8, 20.9, 19.8, 19.5, 19.4, 21.0, 21.0, 20.2, 19.3,
              19.5, 19.0, 18.7, 17.9, 17.3, 16.6, 16.6, 16.8, 16.5, 16.7, 16.8, 16.7,
              14.2, 16.0, 18.0, 17.8, 17.8, 17.0, 17.1, 16.4, 16.5, 15.9, 15.3, 14.8, 14.3,
              13.7, 14.4, 13.6, 13.6, 12.8, 12.4, 11.9, 11.3, 10.8, 10.4, 9.8, 9.3,
              8.8, 9.4, 9.8, 9.3, 8.8, 8.3, 7.5, 6.9, 6.3, 5.6, 5.0, np.nan]
ks_band_lo = [11.3, 12.4, 12.2, 12.6, 11.4, 11.4, 11.0, 10.5, 10.0, 10.7, 10.7, 10.5, 10.5,
              10.6, 10.6, 11.5, 11.1, 10.7, 10.6, 10.3, 10.2, 9.6, 10.0, 9.6, 9.4,
              9.3, 9.3, 9.2, 9.0, 8.9, 9.0, 8.8, 9.1, 9.0, 9.0, 9.1, 9.1,
              7.4, 9.3, 11.2, 11.0, 10.8, 10.5, 10.5, 10.1, 9.9, 9.3, 9.1, 8.9, 8.6,
              8.1, 8.8, 8.2, 8.1, 7.5, 7.3, 6.8, 6.4, 6.1, 5.8, 5.6, 5.3,
              4.9, 5.6, 6.4, 6.1, 5.9, 5.6, 5.3, 5.1, 4.9, 4.8, 5.0, np.nan]

ab_hi = [ab_45, ab_75, ab_105, ab_135, ab_165, ab_195, ab_225, ab_255, ab_285]
ab_lo = [ab_45_lo, ab_75_lo, ab_105_lo, ab_135_lo, ab_165_lo, ab_195_lo, ab_225_lo, ab_255_lo, ab_285_lo]
ks_hi = [ks_45, ks_75, ks_105, ks_135, ks_165, ks_195, ks_225, ks_255, ks_285]
ks_lo = [ks_45_lo, ks_75_lo, ks_105_lo, ks_135_lo, ks_165_lo, ks_195_lo, ks_225_lo, ks_255_lo, ks_285_lo]

fig, axes = plt.subplots(3, 1, figsize=(14, 10), dpi=150, sharex=True,
                         gridspec_kw={'height_ratios': [3, 3, 2]})
fig.subplots_adjust(left=0.044, right=0.989, top=0.967, bottom=0.0545, hspace=0.14)


def round_marks(ax, y):
    for x0, name in [(0, 'R1'), (180, 'R2')]:
        ax.axvline(x0, color='#555555', ls=':', lw=0.8, alpha=0.8, zorder=1)
        ax.text(x0 + 2, y, name, color='#666666', fontsize=8.5, va='center', ha='left')


def prob_panel(ax, his, los, title):
    for lab, col, hi, lo in zip(labels, colors, his, los):
        ax.fill_between(t, lo, hi, color=col, alpha=0.1, lw=0)
        ax.plot(t, lo, ls=':', color=col, lw=1.0, alpha=0.75)
        ax.plot(t, hi, color=col, lw=1.5, alpha=0.85, label=lab)
    round_marks(ax, 1.095)
    ax.set_ylim(0, 1.173)
    ax.set_yticks(np.arange(0, 1.151, 0.05))
    ax.set_yticklabels(['%.2f' % v for v in np.arange(0, 1.151, 0.05)])
    ax.set_ylabel('Prob', fontsize=7.5)
    ax.set_title(title, fontsize=10.5)
    ax.grid(axis='y', color='#dddddd', lw=0.8)
    ax.set_axisbelow(True)
    ax.tick_params(labelsize=7)
    ax.legend(loc='upper right', ncol=4, fontsize=6.3, framealpha=0.8,
              handlelength=2.2, columnspacing=1.4, borderaxespad=0.3)


prob_panel(axes[0], ab_hi, ab_lo,
           'ARNOLD BARBOZA \u2014 Total Strikes Landed R2 Under Leadup (R1-R2) (Event 16187)')
prob_panel(axes[1], ks_hi, ks_lo,
           'KENNETH SIMS \u2014 Total Strikes Landed R2 Under Leadup (R1-R2) (Event 16187)')

ax = axes[2]
ax.fill_between(t, ab_band_lo, ab_band_hi, color='red', alpha=0.13, lw=1)
ax.fill_between(t, ks_band_lo, ks_band_hi, color='blue', alpha=0.13, lw=1)
ax.plot(t, truth_ab, color='red', lw=1.8, alpha=0.72, label='Truth ARNOLD BARBOZA: 8')
ax.plot(t, truth_ks, color='blue', lw=1.8, alpha=0.72, label='Truth KENNETH SIMS: 5')
ax.plot(t, pred_ab, ls=':', color='red', lw=1.8, alpha=0.6, label='Predicted ARNOLD BARBOZA: 12.5')
ax.plot(t, pred_ks, ls=':', color='blue', lw=1.8, alpha=0.6, label='Predicted KENNETH SIMS: 10.8')
round_marks(ax, 24.1)
ax.set_ylim(-1.25, 25.6)
ax.set_ylabel('Count', fontsize=8.5)
ax.grid(axis='y', color='#dddddd', lw=0.8)
ax.set_axisbelow(True)
ax.tick_params(labelsize=7.5)
ax.legend(loc='upper left', fontsize=7.1, framealpha=0.8)
ax.set_xlabel('Fight time (seconds)', fontsize=10.5)
ax.set_xlim(-18, 378)

fig.savefig('out.png', dpi=150)
